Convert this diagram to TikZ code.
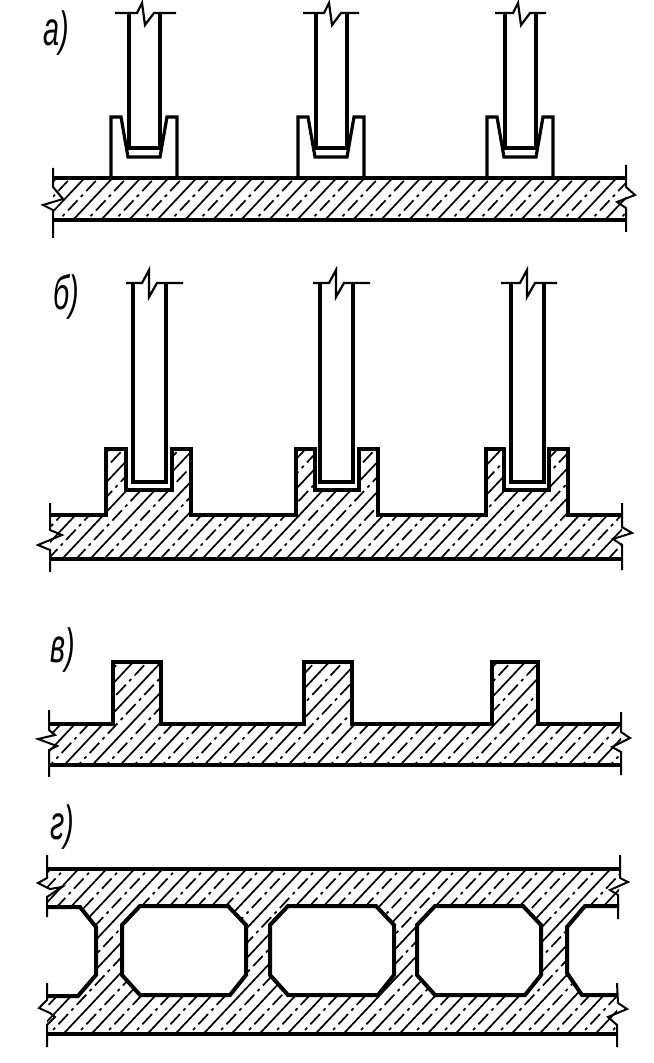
\documentclass[tikz,border=0pt]{standalone}
\usepackage{fontspec}
\setmainfont{Liberation Sans}
\tikzset{
  outline/.style={line width=2pt,line join=miter},
  thinline/.style={line width=1.6pt,line join=miter},
  breakline/.style={line width=1.1pt,line join=miter},
  tick/.style={line width=1pt},
  hatchsolid/.style={line width=0.85pt},
  hatchdash/.style={line width=0.85pt,dash pattern=on 7pt off 2.4pt on 1.5pt off 2.4pt},
  panel/.style={inner sep=0pt,xscale=0.72,yscale=1.2,transform shape,font=\itshape\fontsize{20}{20}\selectfont},
}
\newcommand{\hatchin}[1]{
  \begin{scope}
    \clip #1;
    \foreach \hx in {0,28,...,1680} {
      \draw[hatchsolid] (\hx-1000,1063) -- (\hx,0);
      \draw[hatchdash] (\hx-986,1063) -- (\hx+14,0);
    }
  \end{scope}
}
\begin{document}
\begin{tikzpicture}[x=0.5pt,y=-0.5pt]
  \useasboundingbox (0,0) rectangle (653,1063);
  \node[panel] (la) at (56,33) {а)};
  \node[panel] (lb) at (66,297) {б)};
  \node[panel] (lc) at (63,650) {в)};
  \node[panel] (ld) at (62,827) {г)};

  % slab with cups
  \hatchin{(53,178) rectangle (626,220)}
  \draw[outline] (53,178) -- (626,178) (53,220) -- (626,220);
  \draw[tick] (53,168) -- (53,187) -- (63,199) -- (43,205) -- (53,210) -- (53,238);
  \draw[tick] (626,165) -- (626,187) -- (635,195) -- (617,202) -- (626,208) -- (626,232);
  \foreach \dx/\tl/\tr in {0/115/176,187/116/172,376/119/170} {
    \begin{scope}[shift={(\dx,0)}]
      \draw[thinline] (111,178) -- (111,117) -- (121,117) -- (128,157) -- (160,157) -- (167,117) -- (177,117) -- (177,178);
      \draw[thinline] (129,13) -- (129,148) -- (160,148) -- (160,13);
      \draw[breakline] (\tl,13) -- (137,13) -- (142,3) -- (145,25) -- (154,13) -- (\tr,13);
    \end{scope}
  }

  % slab with sockets
  \hatchin{(50,515) -- (106,515) -- (106,449) -- (126,449) -- (126,490) -- (172,490) -- (172,449) -- (191,449) -- (191,515) -- (296,515) -- (296,449) -- (315,449) -- (315,490) -- (359,490) -- (359,449) -- (378,449) -- (378,515) -- (486,515) -- (486,449) -- (504,449) -- (504,490) -- (549,490) -- (549,449) -- (568,449) -- (568,515) -- (622,515) -- (622,559) -- (50,559) -- cycle}
  \draw[outline] (50,515) -- (106,515) -- (106,449) -- (126,449) -- (126,490) -- (172,490) -- (172,449) -- (191,449) -- (191,515) -- (296,515) -- (296,449) -- (315,449) -- (315,490) -- (359,490) -- (359,449) -- (378,449) -- (378,515) -- (486,515) -- (486,449) -- (504,449) -- (504,490) -- (549,490) -- (549,449) -- (568,449) -- (568,515) -- (622,515);
  \draw[outline] (50,559) -- (622,559);
  \draw[tick] (50,503) -- (50,530) -- (62,535) -- (38,545) -- (50,550) -- (50,572);
  \draw[tick] (622,503) -- (622,527) -- (632,533) -- (613,539) -- (622,545) -- (622,570);
  \foreach \dx/\tl/\tr in {0/126/183,187/126/183,378/123/179} {
    \begin{scope}[shift={(\dx,0)}]
      \draw[thinline] (133,283) -- (133,482) -- (166,482) -- (166,283);
      \draw[breakline] (\tl,283) -- (142,283) -- (149,270) -- (149,297) -- (157,283) -- (\tr,283);
    \end{scope}
  }

  % slab with ribs
  \hatchin{(49,724) -- (113,724) -- (113,662) -- (161,662) -- (161,724) -- (304,724) -- (304,662) -- (352,662) -- (352,724) -- (492,724) -- (492,662) -- (538,662) -- (538,724) -- (621,724) -- (621,765) -- (49,765) -- cycle}
  \draw[outline] (49,724) -- (113,724) -- (113,662) -- (161,662) -- (161,724) -- (304,724) -- (304,662) -- (352,662) -- (352,724) -- (492,724) -- (492,662) -- (538,662) -- (538,724) -- (621,724);
  \draw[outline] (49,765) -- (621,765);
  \draw[tick] (49,710) -- (49,730) -- (55,735) -- (38,739) -- (57,746) -- (49,750) -- (49,777);
  \draw[tick] (621,712) -- (621,732) -- (630,738) -- (612,747) -- (621,752) -- (621,775);

  % hollow panel
  \hatchin{(47,869) -- (619,869) -- (619,906) -- (585,906) -- (567,927) -- (567,973) -- (582,995) -- (617,995) -- (617,1034) -- (47,1034) -- (47,996) -- (78,996) -- (96,975) -- (96,927) -- (80,907) -- (47,907) -- cycle}
  \draw[outline] (47,869) -- (619,869) (47,1034) -- (617,1034);
  \draw[outline] (47,907) -- (80,907) -- (96,927) -- (96,975) -- (78,996) -- (47,996);
  \draw[outline] (619,906) -- (585,906) -- (567,927) -- (567,973) -- (582,995) -- (617,995);
  \foreach \dx in {0,148,295} {
    \begin{scope}[shift={(\dx,0)}]
      \draw[outline,fill=white] (140,906) -- (228,906) -- (246,925) -- (246,975) -- (230,995) -- (140,995) -- (122,975) -- (122,925) -- cycle;
    \end{scope}
  }
  \draw[tick] (47,855) -- (47,878) -- (38,883) -- (50,889) -- (62,887) -- (47,897) -- (47,917);
  \draw[tick] (47,983) -- (47,1000) -- (39,1008) -- (50,1013) -- (55,1017) -- (47,1025) -- (47,1047);
  \draw[tick] (620,855) -- (620,878) -- (628,882) -- (610,890) -- (618,895) -- (618,919);
  \draw[tick] (617,983) -- (618,1003) -- (627,1009) -- (608,1017) -- (617,1025) -- (617,1047);
\end{tikzpicture}
\end{document}
